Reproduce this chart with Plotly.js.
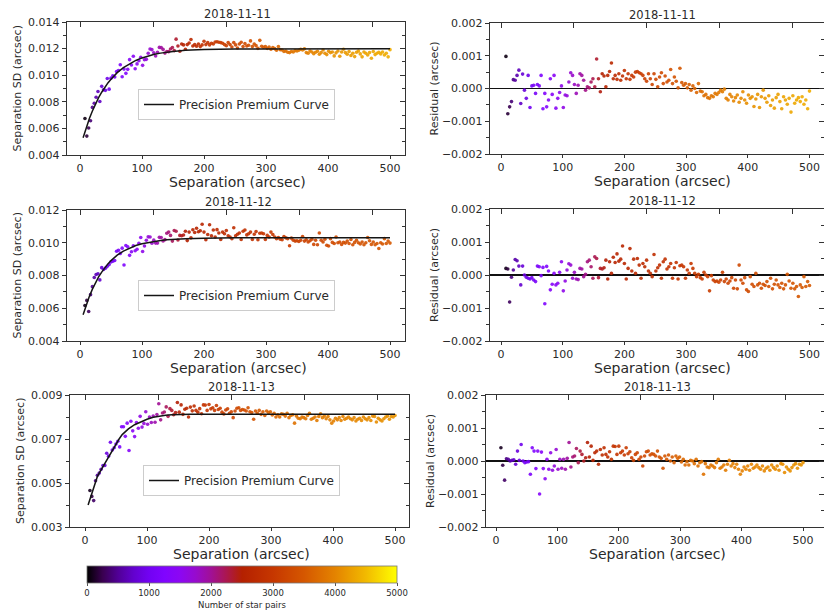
<!DOCTYPE html>
<html><head><meta charset="utf-8">
<script src="https://cdn.plot.ly/plotly-3.0.1.min.js"></script>
<style>html,body{margin:0;padding:0;background:#fff}#chart{width:824px;height:614px}</style>
</head><body><div id="chart"></div>
<script>
// ---------------- DATA ----------------
const dates = ['2018-11-11', '2018-11-12', '2018-11-13'];
const legendName = 'Precision Premium Curve';
const xTitle = 'Separation (arcsec)';
const sdTitle = 'Separation SD (arcsec)';
const resTitle = 'Residual (arcsec)';
const cbTitle = 'Number of star pairs';

const sepX = [8,11,14,17,20,23,26,29,32,35,38,41,44,47,50,53,56,59,62,65,68,71,74,77,80,83,86,89,92,95,98,101,104,107,110,113,116,119,122,125,128,131,134,137,140,143,146,149,152,155,158,161,164,167,170,173,176,179,182,185,188,191,194,197,200,203,206,209,212,215,218,221,224,227,230,233,236,239,242,245,248,251,254,257,260,263,266,269,272,275,278,281,284,287,290,293,296,299,302,305,308,311,314,317,320,323,326,329,332,335,338,341,344,347,350,353,356,359,362,365,368,371,374,377,380,383,386,389,392,395,398,401,404,407,410,413,416,419,422,425,428,431,434,437,440,443,446,449,452,455,458,461,464,467,470,473,476,479,482,485,488,491,494,497,500];

const sd11 = [0.00674,0.00542,0.00603,0.00657,0.00758,0.00789,0.00834,0.00878,0.00802,0.00916,
0.00890,0.00886,0.00975,0.00895,0.00978,0.00996,0.00986,0.01027,0.01035,0.01079,
0.00988,0.01046,0.01014,0.01044,0.01117,0.01077,0.01142,0.01049,0.01085,0.01109,
0.01135,0.01074,0.01116,0.01119,0.01165,0.01197,0.01192,0.01168,0.01144,0.01172,
0.01209,0.01207,0.01194,0.01166,0.01178,0.01177,0.01197,0.01208,0.01185,0.01271,
0.01220,0.01180,0.01235,0.01228,0.01195,0.01230,0.01242,0.01268,0.01220,0.01230,
0.01218,0.01235,0.01215,0.01228,0.01255,0.01230,0.01245,0.01228,0.01240,0.01235,
0.01250,0.01252,0.01248,0.01245,0.01240,0.01230,0.01222,0.01245,0.01230,0.01212,
0.01245,0.01228,0.01205,0.01235,0.01248,0.01215,0.01238,0.01220,0.01225,0.01258,
0.01215,0.01235,0.01222,0.01202,0.01262,0.01218,0.01210,0.01215,0.01202,0.01212,
0.01195,0.01208,0.01200,0.01188,0.01215,0.01192,0.01190,0.01178,0.01182,0.01172,
0.01170,0.01178,0.01175,0.01185,0.01182,0.01188,0.01195,0.01190,0.01198,0.01170,
0.01165,0.01182,0.01175,0.01162,0.01172,0.01180,0.01158,0.01170,0.01190,0.01165,
0.01155,0.01180,0.01170,0.01175,0.01145,0.01168,0.01182,0.01142,0.01175,0.01195,
0.01170,0.01158,0.01178,0.01148,0.01165,0.01140,0.01172,0.01182,0.01160,0.01138,
0.01175,0.01165,0.01152,0.01170,0.01128,0.01178,0.01155,0.01165,0.01172,0.01160,
0.01175,0.01152,0.01165,0.01138,0.01192];

const res11 = [0.00098,-0.00077,-0.00056,-0.00040,0.00027,0.00025,0.00040,0.00056,-0.00046,0.00044,
-0.00005,-0.00030,0.00040,-0.00058,0.00008,0.00010,-0.00015,0.00012,0.00008,0.00040,
-0.00062,-0.00015,-0.00056,-0.00035,0.00030,-0.00018,0.00040,-0.00060,-0.00030,-0.00012,
0.00008,-0.00058,-0.00020,-0.00022,0.00020,0.00048,0.00040,0.00012,-0.00015,0.00010,
0.00045,0.00040,0.00025,-0.00005,0.00005,0.00002,0.00020,0.00030,0.00005,0.00090,
0.00030,-0.00010,0.00045,0.00038,0.00005,0.00040,0.00052,0.00078,0.00030,0.00040,
0.00028,0.00045,0.00025,0.00038,0.00055,0.00030,0.00045,0.00028,0.00040,0.00035,
0.00050,0.00052,0.00048,0.00045,0.00040,0.00030,0.00022,0.00045,0.00030,0.00012,
0.00045,0.00028,0.00005,0.00035,0.00048,0.00015,0.00038,0.00020,0.00025,0.00058,
0.00015,0.00035,0.00022,0.00002,0.00062,0.00018,0.00010,0.00015,0.00002,0.00012,
-0.00005,0.00008,0.00000,-0.00012,0.00015,-0.00008,-0.00010,-0.00022,-0.00018,-0.00028,
-0.00030,-0.00022,-0.00025,-0.00015,-0.00018,-0.00012,-0.00005,-0.00010,-0.00002,-0.00030,
-0.00035,-0.00018,-0.00025,-0.00038,-0.00028,-0.00020,-0.00042,-0.00030,-0.00010,-0.00035,
-0.00045,-0.00020,-0.00030,-0.00025,-0.00055,-0.00032,-0.00018,-0.00058,-0.00025,-0.00005,
-0.00030,-0.00042,-0.00022,-0.00052,-0.00035,-0.00060,-0.00028,-0.00018,-0.00040,-0.00062,
-0.00025,-0.00035,-0.00048,-0.00030,-0.00072,-0.00022,-0.00045,-0.00035,-0.00028,-0.00040,
-0.00025,-0.00048,-0.00035,-0.00062,-0.00008];

const n11 = [60,180,260,380,450,540,610,680,720,800,
830,900,940,1000,1020,1080,1110,1150,1180,1220,
1250,1290,1300,1350,1380,1400,1440,1460,1500,1520,
1560,1580,1620,1650,1700,1720,1770,1800,1850,1880,
1920,1960,2000,2050,2100,2150,2200,2260,2300,2350,
2400,2450,2500,2540,2580,2620,2650,2680,2720,2740,
2770,2800,2820,2850,2870,2900,2920,2950,2970,3000,
3020,3040,3060,3080,3100,3120,3140,3160,3180,3200,
3220,3240,3260,3280,3300,3310,3330,3350,3370,3390,
3400,3420,3440,3460,3480,3500,3520,3540,3560,3580,
3600,3620,3640,3660,3680,3700,3720,3740,3760,3780,
3800,3820,3840,3850,3870,3890,3900,3920,3940,3950,
3970,3980,4000,4010,4020,4040,4050,4060,4080,4090,
4100,4110,4120,4130,4140,4150,4160,4170,4180,4190,
4200,4210,4220,4230,4240,4250,4250,4260,4270,4280,
4290,4290,4300,4310,4320,4320,4330,4340,4340,4350,
4360,4360,4370,4380,4380];

const sd12 = [0.00617,0.00648,0.00580,0.00683,0.00732,0.00788,0.00806,0.00811,0.00773,0.00848,
0.00837,0.00845,0.00856,0.00867,0.00883,0.00887,0.00892,0.00948,0.00954,0.00935,
0.00967,0.00864,0.00983,0.00975,0.00923,0.00945,0.00982,0.00951,0.00960,0.00997,
0.01032,0.00947,0.00980,0.01015,0.01036,0.01035,0.00997,0.01016,0.00998,0.00998,
0.01033,0.01032,0.01011,0.01019,0.01058,0.01065,0.01045,0.01010,0.01075,0.01070,
0.01017,0.01045,0.01043,0.01047,0.01070,0.01013,0.01065,0.01030,0.01079,0.01063,
0.01089,0.01067,0.01073,0.01113,0.01065,0.01018,0.01050,0.01110,0.01042,0.01078,
0.01035,0.01080,0.01060,0.01020,0.01065,0.01055,0.01075,0.01042,0.01035,0.01025,
0.01092,0.01042,0.01052,0.01060,0.01020,0.01070,0.01078,0.01048,0.01055,0.01065,
0.01020,0.01052,0.01068,0.01018,0.01058,0.01060,0.01055,0.01020,0.01045,0.01035,
0.01065,0.01050,0.01035,0.01025,0.01032,0.01022,0.01018,0.01038,0.01030,0.01025,
0.00982,0.01028,0.01015,0.01010,0.01012,0.01008,0.01015,0.01038,0.01010,0.01018,
0.01005,0.01012,0.01022,0.00990,0.01015,0.00988,0.01060,0.01015,0.01005,0.01022,
0.00985,0.00980,0.01025,0.01002,0.00995,0.01035,0.01000,0.01005,0.00990,0.01002,
0.00998,0.01010,0.00995,0.01020,0.00988,0.01002,0.01015,0.01000,0.00992,0.01005,
0.00988,0.01000,0.01032,0.01012,0.00990,0.01005,0.00988,0.00995,0.00965,0.01000,
0.00992,0.01025,0.00995,0.01010,0.00998];

const res12 = [0.00020,0.00018,-0.00082,-0.00007,0.00015,0.00047,0.00043,0.00027,-0.00030,0.00027,
0.00000,-0.00007,-0.00010,-0.00012,-0.00008,-0.00015,-0.00020,0.00027,0.00025,-0.00002,
0.00023,-0.00087,0.00026,0.00012,-0.00045,-0.00028,0.00005,-0.00030,-0.00025,0.00008,
0.00040,-0.00048,-0.00018,0.00015,0.00034,0.00030,-0.00010,0.00008,-0.00012,-0.00014,
0.00020,0.00018,-0.00005,0.00002,0.00040,0.00045,0.00025,-0.00010,0.00055,0.00050,
-0.00008,0.00020,0.00018,0.00022,0.00045,-0.00012,0.00040,0.00005,0.00054,0.00038,
0.00064,0.00042,0.00048,0.00088,0.00035,-0.00012,0.00020,0.00080,0.00012,0.00048,
0.00005,0.00050,0.00030,-0.00010,0.00035,0.00025,0.00045,0.00012,0.00005,-0.00005,
0.00062,0.00012,0.00022,0.00030,-0.00010,0.00040,0.00048,0.00018,0.00025,0.00035,
-0.00010,0.00022,0.00038,-0.00012,0.00028,0.00030,0.00025,-0.00010,0.00015,0.00005,
0.00035,0.00020,0.00005,-0.00005,0.00002,-0.00008,-0.00012,0.00008,0.00000,-0.00005,
-0.00048,-0.00002,-0.00015,-0.00020,-0.00018,-0.00022,-0.00015,0.00008,-0.00020,-0.00012,
-0.00025,-0.00018,-0.00008,-0.00040,-0.00015,-0.00042,0.00030,-0.00015,-0.00025,-0.00008,
-0.00045,-0.00050,-0.00005,-0.00028,-0.00035,0.00005,-0.00030,-0.00025,-0.00040,-0.00028,
-0.00032,-0.00020,-0.00035,-0.00010,-0.00042,-0.00028,-0.00015,-0.00030,-0.00038,-0.00025,
-0.00042,-0.00030,0.00002,-0.00018,-0.00040,-0.00025,-0.00042,-0.00035,-0.00065,-0.00030,
-0.00038,-0.00005,-0.00035,-0.00020,-0.00032];

const n12 = [80,200,300,420,500,580,640,700,760,820,
860,900,950,990,1030,1070,1100,1140,1170,1200,
1230,1260,1290,1320,1350,1380,1410,1440,1470,1500,
1530,1560,1600,1640,1680,1720,1760,1800,1840,1880,
1920,1960,2000,2040,2080,2120,2160,2200,2240,2280,
2320,2360,2400,2440,2480,2510,2540,2570,2590,2600,
2600,2610,2620,2630,2640,2650,2660,2670,2680,2690,
2700,2710,2720,2730,2740,2750,2760,2770,2780,2790,
2800,2810,2820,2830,2840,2850,2860,2870,2880,2890,
2900,2910,2920,2930,2940,2950,2960,2970,2980,2990,
3000,3010,3020,3030,3040,3050,3060,3070,3080,3090,
3100,3110,3120,3130,3140,3150,3160,3170,3180,3190,
3200,3210,3220,3230,3240,3250,3260,3270,3280,3290,
3300,3300,3310,3320,3320,3330,3340,3340,3350,3360,
3360,3370,3380,3380,3390,3400,3400,3410,3420,3420,
3430,3440,3440,3450,3460,3460,3470,3480,3480,3490,
3490,3500,3500,3510,3520];

const sd13 = [0.00466,0.00439,0.00420,0.00510,0.00535,0.00545,0.00562,0.00579,0.00580,0.00635,
0.00622,0.00685,0.00650,0.00660,0.00677,0.00690,0.00664,0.00756,0.00756,0.00712,
0.00772,0.00648,0.00781,0.00737,0.00711,0.00775,0.00749,0.00803,0.00754,0.00771,
0.00824,0.00767,0.00800,0.00775,0.00804,0.00776,0.00811,0.00860,0.00787,0.00818,
0.00823,0.00846,0.00803,0.00838,0.00830,0.00810,0.00820,0.00866,0.00822,0.00855,
0.00812,0.00835,0.00840,0.00800,0.00845,0.00828,0.00850,0.00830,0.00822,0.00838,
0.00815,0.00855,0.00854,0.00830,0.00857,0.00837,0.00842,0.00830,0.00852,0.00834,
0.00840,0.00822,0.00814,0.00832,0.00837,0.00817,0.00824,0.00797,0.00827,0.00840,
0.00842,0.00830,0.00834,0.00832,0.00827,0.00842,0.00824,0.00820,0.00790,0.00827,
0.00817,0.00830,0.00812,0.00824,0.00807,0.00827,0.00820,0.00824,0.00809,0.00817,
0.00800,0.00810,0.00800,0.00814,0.00812,0.00804,0.00817,0.00797,0.00807,0.00810,
0.00772,0.00804,0.00794,0.00792,0.00800,0.00797,0.00792,0.00807,0.00817,0.00790,
0.00794,0.00800,0.00784,0.00802,0.00814,0.00797,0.00804,0.00792,0.00802,0.00787,
0.00772,0.00782,0.00794,0.00787,0.00797,0.00784,0.00802,0.00790,0.00794,0.00800,
0.00792,0.00787,0.00797,0.00782,0.00790,0.00794,0.00784,0.00800,0.00792,0.00787,
0.00797,0.00784,0.00804,0.00802,0.00777,0.00794,0.00787,0.00782,0.00792,0.00800,
0.00804,0.00790,0.00802,0.00800,0.00807];

const res13 = [0.00040,-0.00013,-0.00058,0.00007,0.00005,0.00000,0.00002,0.00004,-0.00010,0.00030,
0.00002,0.00050,0.00000,-0.00005,-0.00003,-0.00002,-0.00040,0.00040,0.00030,-0.00023,
0.00030,-0.00100,0.00027,-0.00023,-0.00054,0.00005,-0.00025,0.00025,-0.00028,-0.00015,
0.00035,-0.00025,0.00005,-0.00022,0.00005,-0.00025,0.00008,0.00056,-0.00018,0.00012,
0.00015,0.00038,-0.00005,0.00030,0.00020,0.00000,0.00010,0.00056,0.00012,0.00045,
0.00002,0.00025,0.00030,-0.00010,0.00035,0.00018,0.00040,0.00020,0.00012,0.00028,
0.00005,0.00045,0.00044,0.00020,0.00045,0.00025,0.00030,0.00018,0.00040,0.00022,
0.00028,0.00010,0.00002,0.00020,0.00025,0.00005,0.00012,-0.00015,0.00015,0.00028,
0.00030,0.00018,0.00022,0.00020,0.00015,0.00030,0.00012,0.00008,-0.00022,0.00015,
0.00005,0.00018,0.00000,0.00012,-0.00005,0.00015,0.00008,0.00012,-0.00003,0.00005,
-0.00012,-0.00002,-0.00012,0.00002,0.00000,-0.00008,0.00005,-0.00015,-0.00005,-0.00002,
-0.00040,-0.00008,-0.00018,-0.00020,-0.00012,-0.00015,-0.00020,-0.00005,0.00005,-0.00022,
-0.00018,-0.00012,-0.00028,-0.00010,0.00002,-0.00015,-0.00008,-0.00020,-0.00010,-0.00025,
-0.00040,-0.00030,-0.00018,-0.00025,-0.00015,-0.00028,-0.00010,-0.00022,-0.00018,-0.00012,
-0.00020,-0.00025,-0.00015,-0.00030,-0.00022,-0.00018,-0.00028,-0.00012,-0.00020,-0.00025,
-0.00015,-0.00028,-0.00008,-0.00010,-0.00035,-0.00018,-0.00025,-0.00030,-0.00020,-0.00012,
-0.00008,-0.00022,-0.00010,-0.00012,-0.00005];

const n13 = [100,220,330,430,520,600,680,740,800,860,
910,960,1000,1050,1090,1130,1170,1210,1250,1290,
1330,1370,1400,1440,1480,1520,1550,1590,1620,1660,
1700,1740,1780,1820,1860,1900,1950,2000,2050,2100,
2150,2200,2250,2300,2350,2400,2440,2480,2520,2560,
2600,2640,2670,2700,2730,2760,2790,2820,2850,2880,
2900,2920,2940,2960,2980,3000,3020,3040,3060,3080,
3100,3120,3140,3160,3180,3200,3220,3240,3260,3280,
3300,3320,3340,3360,3380,3400,3420,3440,3460,3480,
3500,3520,3540,3560,3580,3600,3620,3640,3660,3680,
3700,3710,3720,3730,3740,3750,3760,3770,3780,3790,
3800,3810,3820,3830,3840,3850,3860,3870,3880,3890,
3900,3900,3910,3920,3920,3930,3940,3940,3950,3960,
3960,3970,3980,3980,3990,4000,4000,4010,4010,4020,
4020,4030,4030,4040,4040,4050,4050,4060,4060,4070,
4070,4080,4080,4090,4090,4100,4100,4110,4110,4120,
4120,4130,4130,4140,4140];

const curveX = [5,10,15,20,25,30,35,40,45,50,55,60,70,80,90,100,110,120,130,140,150,170,200,250,500];
const curve11 = [0.00530,0.00605,0.00672,0.00731,0.00784,0.00831,0.00872,0.00909,0.00942,0.00970,0.00996,0.01019,0.01057,0.01087,0.01111,0.01130,0.01145,0.01157,0.01166,0.01173,0.01179,0.01187,0.01193,0.01197,0.01198];
const curve12 = [0.00560,0.00619,0.00671,0.00717,0.00756,0.00791,0.00821,0.00848,0.00871,0.00891,0.00908,0.00924,0.00949,0.00968,0.00983,0.00994,0.01002,0.01009,0.01014,0.01018,0.01021,0.01025,0.01028,0.01030,0.01030];
const curve13 = [0.00400,0.00443,0.00487,0.00530,0.00555,0.00580,0.00605,0.00630,0.00655,0.00680,0.00700,0.00720,0.00746,0.00765,0.00779,0.00790,0.00799,0.00805,0.00808,0.00810,0.00811,0.00812,0.00812,0.00812,0.00812];

const xTicks = [0, 100, 200, 300, 400, 500];
const topTicks = [0, 118, 236, 354, 472];
const sdTicks11 = [0.004, 0.006, 0.008, 0.010, 0.012, 0.014];
const sdTicks12 = [0.004, 0.006, 0.008, 0.010, 0.012];
const sdTicks13 = [0.003, 0.005, 0.007, 0.009];
const resTicks = [-0.002, -0.001, 0.000, 0.001, 0.002];
const cbTicks = [0, 1000, 2000, 3000, 4000, 5000];

// ---------------- STYLE / LAYOUT ----------------
const W = 824, H = 614;
const fx = p => p / W, fy = p => 1 - p / H;
const FONT = 'DejaVu Sans';
const TXT = '#2a2a2a';
const colorscale = [
  [0.00,'rgb(0,0,0)'],[0.05,'rgb(57,0,79)'],[0.10,'rgb(81,0,150)'],[0.15,'rgb(99,1,206)'],
  [0.20,'rgb(114,2,243)'],[0.25,'rgb(128,4,255)'],[0.30,'rgb(140,7,243)'],[0.35,'rgb(151,11,206)'],
  [0.40,'rgb(161,16,150)'],[0.45,'rgb(171,23,79)'],[0.50,'rgb(180,32,0)'],[0.60,'rgb(198,55,0)'],
  [0.70,'rgb(213,87,0)'],[0.80,'rgb(228,131,0)'],[0.90,'rgb(242,186,0)'],[1.00,'rgb(255,255,0)']
];

const sets = [
  {sd: sd11, res: res11, n: n11, curve: curve11, yr: [0.004, 0.014], ticks: sdTicks11},
  {sd: sd12, res: res12, n: n12, curve: curve12, yr: [0.004, 0.012], ticks: sdTicks12},
  {sd: sd13, res: res13, n: n13, curve: curve13, yr: [0.003, 0.009], ticks: sdTicks13}
];

// pixel boxes [left, right, top, bottom], x-pixel of data 0, px per unit
const panels = [
  {key:'',  box:[67,405,22,155],  x0:80,  s:0.620, kind:'sd',  d:0, cx:237, ytx:17},
  {key:'2', box:[490,824,23,154], x0:501, s:0.617, kind:'res', d:0, cx:662, ytx:434},
  {key:'3', box:[67,405,210,341], x0:80,  s:0.620, kind:'sd',  d:1, cx:238, ytx:17},
  {key:'4', box:[490,824,209,341],x0:501, s:0.617, kind:'res', d:1, cx:662, ytx:434},
  {key:'5', box:[70,409,395,527], x0:85,  s:0.620, kind:'sd',  d:2, cx:242, ytx:20},
  {key:'6', box:[486,824,395,527],x0:496, s:0.614, kind:'res', d:2, cx:657, ytx:430}
];
const legendPos = [[138,89],[138,280],[143,465]];

const data = [];
const layout = {
  width: W, height: H, margin: {l:0, r:0, t:0, b:0},
  paper_bgcolor: 'white', plot_bgcolor: 'white',
  font: {family: FONT, color: TXT, size: 11},
  showlegend: true, annotations: []
};

panels.forEach((p, idx) => {
  const i = idx + 1, o = idx + 7;
  const set = sets[p.d];
  const [l, r, t, b] = p.box;
  const xr = [(l - p.x0) / p.s, (r - p.x0) / p.s];
  const yr = p.kind === 'sd' ? set.yr : [-0.002, 0.002];
  const yt = p.kind === 'sd' ? set.ticks : resTicks;
  const minorStep = p.kind === 'sd' ? 0.001 : 0.0005;
  const xid = 'x' + p.key, yid = 'y' + p.key;

  data.push({
    type: 'scatter', mode: 'markers', x: sepX, y: p.kind === 'sd' ? set.sd : set.res,
    xaxis: xid, yaxis: yid, showlegend: false, hoverinfo: 'skip',
    marker: {
      size: 3.6, color: set.n, colorscale: colorscale, cmin: 0, cmax: 5000, opacity: 0.9,
      line: {width: 0}, showscale: i === 1,
      colorbar: {
        orientation: 'h', x: fx(87), xanchor: 'left', y: fy(566), yanchor: 'top',
        len: 310 / W, lenmode: 'fraction', thickness: 17, thicknessmode: 'pixels',
        xpad: 0, ypad: 0, outlinewidth: 0.8, outlinecolor: '#777',
        tickvals: cbTicks, ticks: 'outside', ticklen: 3, tickcolor: '#555',
        tickfont: {size: 8.5, color: TXT, family: FONT},
        title: {text: cbTitle, side: 'bottom', font: {size: 8.5, color: TXT, family: FONT}}
      }
    }
  });
  if (p.kind === 'sd') {
    data.push({
      type: 'scatter', mode: 'lines', x: curveX, y: set.curve, xaxis: xid, yaxis: yid,
      name: legendName, legend: p.d === 0 ? 'legend' : 'legend' + (p.d + 1),
      line: {color: '#151515', width: 1.5}, hoverinfo: 'skip'
    });
    layout[p.d === 0 ? 'legend' : 'legend' + (p.d + 1)] = {
      x: fx(legendPos[p.d][0]), y: fy(legendPos[p.d][1]), xanchor: 'left', yanchor: 'top',
      bgcolor: 'white', bordercolor: '#cccccc', borderwidth: 1,
      font: {size: 12, color: TXT, family: FONT}, itemwidth: 30
    };
  }
  // invisible helper traces so the overlay tick axes are drawn
  data.push({type:'scatter', mode:'markers', x:[xr[0]], y:[yr[0]], xaxis:'x'+o, yaxis:yid,
    marker:{opacity:0, size:1}, showlegend:false, hoverinfo:'skip'});
  data.push({type:'scatter', mode:'markers', x:[xr[0]], y:[yr[0]], xaxis:xid, yaxis:'y'+o,
    marker:{opacity:0, size:1}, showlegend:false, hoverinfo:'skip'});

  layout['xaxis' + p.key] = {
    domain: [fx(l), fx(r)], range: xr, anchor: yid,
    tickvals: xTicks, ticktext: xTicks.map(String), ticks: 'outside', ticklen: 3, tickcolor: '#333',
    showline: true, mirror: true, linecolor: '#333', linewidth: 1.2, ticklabeloverflow: 'allow',
    showgrid: false, zeroline: false, tickfont: {size: 11, color: TXT}
  };
  layout['yaxis' + p.key] = {
    domain: [fy(b), fy(t)], range: yr, anchor: xid,
    tickvals: yt, ticktext: yt.map(v => (v < 0 ? '\u2212' : '') + Math.abs(v).toFixed(3)),
    ticks: 'outside', ticklen: 4, tickcolor: '#333',
    minor: {dtick: minorStep, tick0: yr[0], ticks: 'outside', ticklen: 2.5, tickcolor: '#333', showgrid: false},
    showline: true, mirror: true, linecolor: '#333', linewidth: 1.2,
    showgrid: false, tickfont: {size: 11, color: TXT},
    zeroline: p.kind === 'res', zerolinecolor: '#111', zerolinewidth: 1.5
  };
  layout['xaxis' + o] = {
    overlaying: xid, side: 'top', anchor: yid, range: xr,
    tickvals: topTicks, ticks: 'inside', ticklen: 5, tickcolor: '#333',
    showticklabels: false, showline: false, showgrid: false, zeroline: false
  };
  layout['yaxis' + o] = {
    overlaying: yid, side: 'right', anchor: xid, range: yr,
    tickvals: yt, ticks: 'inside', ticklen: 5, tickcolor: '#333',
    minor: {dtick: minorStep, tick0: yr[0], ticks: 'inside', ticklen: 3, tickcolor: '#333', showgrid: false},
    showticklabels: false, showline: false, showgrid: false, zeroline: false
  };

  layout.annotations.push({
    text: dates[p.d], x: fx(p.cx), y: fy(t), xref: 'paper', yref: 'paper',
    xanchor: 'center', yanchor: 'bottom', showarrow: false, borderpad: 0,
    font: {size: 11.5, color: TXT}
  });
  layout.annotations.push({
    text: xTitle, x: fx(p.cx), y: fy(b + 27), xref: 'paper', yref: 'paper',
    xanchor: 'center', yanchor: 'middle', showarrow: false,
    font: {size: 14, color: TXT}
  });
  layout.annotations.push({
    text: p.kind === 'sd' ? sdTitle : resTitle, x: fx(p.ytx), y: fy((t + b) / 2),
    xref: 'paper', yref: 'paper', xanchor: 'center', yanchor: 'middle',
    textangle: -90, showarrow: false, font: {size: 11, color: TXT}
  });
});

Plotly.newPlot('chart', data, layout, {staticPlot: true, displayModeBar: false});
</script>
</body></html>
